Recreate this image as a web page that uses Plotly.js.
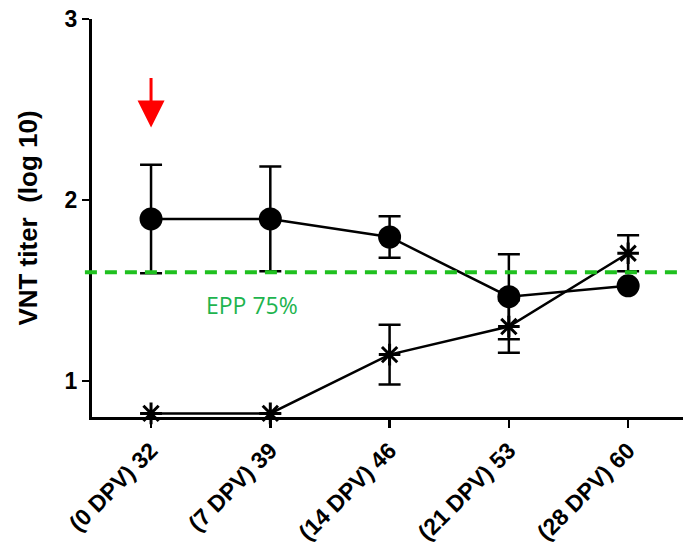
<!DOCTYPE html>
<html><head><meta charset="utf-8">
<script src="https://cdn.plot.ly/plotly-3.0.1.min.js"></script>
<style>body{margin:0;background:#fff}#c{width:683px;height:547px}</style>
</head><body><div id="c"></div>
<script>
var categories = ['(0 DPV) 32','(7 DPV) 39','(14 DPV) 46','(21 DPV) 53','(28 DPV) 60'];
var circleValues = [1.895, 1.895, 1.795, 1.465, 1.525];
var circleErrors = [0.30, 0.29, 0.115, 0.235, 0.0];
var starValues = [0.82, 0.82, 1.145, 1.30, 1.705];
var starErrors = [0.0, 0.0, 0.165, 0.145, 0.10];
var eppValue = 1.60;
var eppLabel = 'EPP 75%';

var idx = categories.map(function(_, i){ return i; });
var FONT = 'Liberation Sans';

var traces = [
  {x: idx, y: circleValues, type:'scatter', mode:'lines+markers',
   line:{color:'#000', width:2.5},
   marker:{symbol:'circle', size:23, color:'#000'},
   error_y:{type:'data', array:circleErrors, visible:true, color:'#000', thickness:2.5, width:11},
   showlegend:false, cliponaxis:false},
  {x: idx, y: starValues, type:'scatter', mode:'lines+markers',
   line:{color:'#000', width:2.5},
   marker:{symbol:'asterisk-open', size:18, line:{color:'#000', width:3}},
   error_y:{type:'data', array:starErrors, visible:true, color:'#000', thickness:2.5, width:11},
   showlegend:false, cliponaxis:false}
];

var layout = {
  width:683, height:547,
  margin:{l:92, r:0, t:19, b:130},
  paper_bgcolor:'#fff', plot_bgcolor:'#fff',
  font:{family:FONT, color:'#000'},
  xaxis:{range:[-0.495, 4.46], tickvals:idx, ticktext:categories, tickangle:-45,
    showgrid:false, zeroline:false, showline:true, linecolor:'#000', linewidth:3,
    ticks:'outside', ticklen:8, tickwidth:2.5, tickcolor:'#000',
    tickfont:{size:23, family:FONT, weight:'bold', color:'#000'}},
  yaxis:{range:[0.8, 3], tickvals:[1,2,3], showgrid:false, zeroline:false,
    showline:true, linecolor:'#000', linewidth:3,
    ticks:'outside', ticklen:7, tickwidth:2.5, tickcolor:'#000',
    tickfont:{size:23, family:FONT, weight:'bold', color:'#000'},
    title:{text:'VNT titer  (log 10)', standoff:20,
      font:{size:26, family:FONT, weight:'bold', color:'#000'}}},
  shapes:[
    {type:'line', xref:'paper', yref:'y', x0:-0.012, x1:1, y0:eppValue, y1:eppValue,
     line:{color:'#1fc01f', width:4, dash:'12px,8px'}}
  ],
  annotations:[
    {x:0.847, y:1.42, xref:'x', yref:'y', text:eppLabel, showarrow:false,
     font:{size:23, family:'Open Sans', color:'#1db44e'}},
    {x:0, y:2.40, xref:'x', yref:'y', ax:0, ay:-51, text:'', showarrow:true,
     arrowhead:2, arrowsize:1.8, arrowwidth:3, arrowcolor:'#ff0000'}
  ]
};

Plotly.newPlot('c', traces, layout, {displayModeBar:false, staticPlot:true});
</script></body></html>
